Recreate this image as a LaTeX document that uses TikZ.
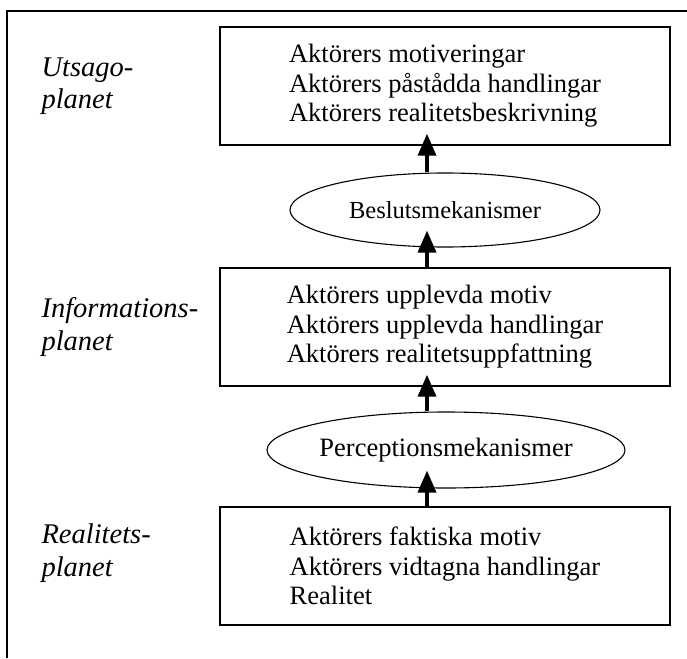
\documentclass[tikz,border=0pt]{standalone}
\usepackage{fontspec}
\setmainfont{Liberation Serif}
\usetikzlibrary{arrows.meta,shapes.geometric}

\begin{document}
\begin{tikzpicture}[x=1pt,y=-1pt,
    plan/.style={draw, line width=1.4pt, minimum width=450pt, minimum height=118pt,
        inner sep=0pt, align=left, font=\fontsize{26.5}{29.5}\selectfont},
    mek/.style={draw, ellipse, line width=1.1pt, inner sep=0pt},
    niva/.style={anchor=west, align=left, font=\fontsize{28.5}{32.5}\selectfont\itshape},
    pil/.style={line width=3.5pt, -{Triangle[length=22pt,width=18pt]}, shorten >=-12pt}]
    \useasboundingbox (0,0) rectangle (687,658);
    % ram
    \draw[line width=1.4pt] (7,658) -- (7,11) -- (687,11);
    \coordinate (axel) at (427,0);

    % planen
    \node[plan] (utsago) at (445,86) {Aktörers motiveringar\\Aktörers påstådda handlingar\\Aktörers realitetsbeskrivning};
    \node[plan] (information) at (445,327) {Aktörers upplevda motiv\\Aktörers upplevda handlingar\\Aktörers realitetsuppfattning};
    \node[plan] (realitet) at (445,566) {Aktörers faktiska motiv\\Aktörers vidtagna handlingar\\Realitet};

    % mekanismer
    \node[mek, minimum width=310pt, minimum height=74pt, font=\fontsize{24.5}{28}\selectfont] (beslut) at (445,210) {Beslutsmekanismer};
    \node[mek, minimum width=357pt, minimum height=76pt, font=\fontsize{26.5}{29.5}\selectfont] (perception) at (446,450) {Perceptionsmekanismer};

    % nivaer
    \node[niva] (nutsago) at (38,86) {Utsago-\\planet};
    \node[niva] (ninformation) at (38,327) {Informations-\\planet};
    \node[niva] (nrealitet) at (38,553) {Realitets-\\planet};

    % pilar
    \draw[pil] (beslut.north -| axel) -- (utsago.south -| axel);
    \draw[pil, shorten >=-17pt] (information.north -| axel) -- (beslut.south -| axel);
    \draw[pil] (perception.north -| axel) -- (information.south -| axel);
    \draw[pil, shorten >=-18pt] (realitet.north -| axel) -- (perception.south -| axel);
\end{tikzpicture}
\end{document}
